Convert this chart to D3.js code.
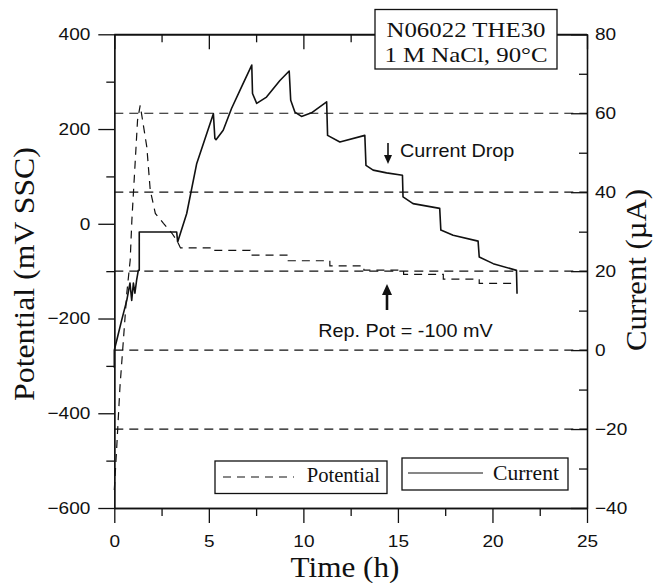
<!DOCTYPE html>
<html>
<head>
<meta charset="utf-8">
<script src="https://cdn.jsdelivr.net/npm/d3@7"></script>
<style>
  body { margin: 0; background: #fff; }
  svg { display: block; }
  .sans { font-family: "Liberation Sans", Arial, sans-serif; }
  .serif { font-family: "Liberation Serif", "Times New Roman", serif; }
</style>
</head>
<body>
<div id="container"></div>
<script>
/* DATA */
const potTime = [0, 0.13, 0.30, 0.48, 0.66, 0.84, 0.93, 1.10, 1.23, 1.37, 1.72, 1.90, 2.17, 2.60, 3.05, 3.35,
  3.50, 5.16, 5.16, 7.19, 7.19, 9.20, 9.20, 11.40, 11.40, 13.20, 13.20, 15.30, 15.30, 17.40, 17.40, 19.30, 19.30, 21.30];
const potValue = [-562, -471, -344, -246, -147, -77, 8, 127, 219, 250, 162, 71, 22, 1, -20, -38,
  -51, -51, -56, -56, -66, -66, -78, -78, -89, -89, -98, -98, -107, -107, -117, -117, -126, -126];

const curTime = [0, 0, 0.13, 0.39, 0.66, 0.83, 0.92, 1.01, 1.09, 1.18, 1.27, 1.32, 1.32, 3.30, 3.35,
  3.83, 4.36, 5.24, 5.32, 5.38, 5.76, 6.20, 6.73, 7.27, 7.31, 7.53, 8.05, 8.76, 9.25, 9.33, 9.55, 9.90,
  10.43, 11.23, 11.28, 11.93, 13.25, 13.31, 13.69, 14.40, 15.24, 15.27, 15.80, 17.21, 17.27, 17.92,
  19.24, 19.30, 20.04, 21.27, 21.30];
const curValue = [-4.5, 0, 2.5, 7.6, 12.6, 17, 12.6, 17, 14.4, 17.7, 20.2, 20.2, 29.9, 29.9, 27.4,
  34.6, 47.3, 59.9, 53.6, 53.3, 55.7, 61.2, 66.7, 72.2, 65, 62.5, 64.1, 68.3, 70.7, 63.3, 60.3, 59.2,
  60.1, 62.9, 54.4, 52.7, 54.4, 46.8, 45.6, 44.9, 44.3, 38.8, 37.1, 35.9, 30.4, 29.1,
  27.6, 23.6, 21.9, 20.2, 14.3];

const gridCurrent = [60, 40, 20, 0, -20];
const xTicks = [0, 5, 10, 15, 20, 25];
const xMinor = [2.5, 7.5, 12.5, 17.5, 22.5];
const leftTicks = [-600, -400, -200, 0, 200, 400];
const leftMinor = [-500, -300, -100, 100, 300];
const rightTicks = [-40, -20, 0, 20, 40, 60, 80];
const rightMinor = [-30, -10, 10, 30, 50, 70];
const boxLines = ["N06022 THE30", "1 M NaCl, 90°C"];
const legendLabels = ["Potential", "Current"];

/* LAYOUT */
const width = 655, height = 583;
const pLeft = 114.3, pRight = 587, pTop = 34.3, pBottom = 508;
const ink = "#111";

const svg = d3.select("#container").append("svg")
  .attr("width", width).attr("height", height);

const xScale = d3.scaleLinear().domain([0, 25]).range([pLeft, pRight]);
const yLeft = d3.scaleLinear().domain([-600, 400]).range([pBottom, pTop]);
const yRight = d3.scaleLinear().domain([-40, 80]).range([pBottom, pTop]);

// helper for horizontally stretched text
function label(x, y, txt, cls, size, k, anchor, rot) {
  return svg.append("text")
    .attr("class", cls)
    .attr("transform", `translate(${x},${y})` + (rot ? ` rotate(${rot})` : "") + ` scale(${k},1)`)
    .attr("font-size", size)
    .attr("text-anchor", anchor || "start")
    .attr("fill", ink)
    .text(txt);
}

/* GRIDLINES (dashed, right-axis values) */
svg.append("g").selectAll("line")
  .data(gridCurrent)
  .join("line")
  .attr("x1", pLeft).attr("x2", pRight)
  .attr("y1", d => yRight(d)).attr("y2", d => yRight(d))
  .attr("stroke", ink).attr("stroke-width", 1.2)
  .attr("stroke-dasharray", "9,6");

/* AXES */
function styleAxis(g) {
  g.selectAll("path, line").attr("stroke", ink).attr("stroke-width", 1.3);
  g.selectAll("text").attr("fill", ink).attr("font-size", 17)
    .attr("font-family", "'Liberation Sans', Arial, sans-serif");
}
const tk = 1.12;

// bottom
svg.append("g").attr("transform", `translate(0,${pBottom})`)
  .call(d3.axisBottom(xScale).tickValues(xTicks).tickSize(15).tickSizeOuter(0).tickPadding(12))
  .call(styleAxis)
  .call(g => g.selectAll("text").attr("transform", `scale(${tk},1)`));
svg.append("g").attr("transform", `translate(0,${pBottom})`)
  .call(d3.axisBottom(xScale).tickValues(xMinor).tickSize(8).tickSizeOuter(0).tickFormat(""))
  .call(styleAxis);

// top (inward ticks, no labels)
svg.append("g").attr("transform", `translate(0,${pTop})`)
  .call(d3.axisTop(xScale).tickValues(xTicks).tickSize(-15).tickSizeOuter(0).tickFormat(""))
  .call(styleAxis);
svg.append("g").attr("transform", `translate(0,${pTop})`)
  .call(d3.axisTop(xScale).tickValues(xMinor).tickSize(-8).tickSizeOuter(0).tickFormat(""))
  .call(styleAxis);

// left
svg.append("g").attr("transform", `translate(${pLeft},0)`)
  .call(d3.axisLeft(yLeft).tickValues(leftTicks).tickSize(16).tickSizeOuter(0).tickPadding(5.4))
  .call(styleAxis)
  .call(g => g.selectAll("text").attr("transform", `scale(${tk},1)`));
svg.append("g").attr("transform", `translate(${pLeft},0)`)
  .call(d3.axisLeft(yLeft).tickValues(leftMinor).tickSize(8).tickSizeOuter(0).tickFormat(""))
  .call(styleAxis);

// right (inward ticks)
svg.append("g").attr("transform", `translate(${pRight},0)`)
  .call(d3.axisRight(yRight).tickValues(rightTicks).tickSize(-16).tickSizeOuter(0).tickPadding(7.1))
  .call(styleAxis)
  .call(g => g.selectAll("text").attr("transform", `scale(${tk},1)`));
svg.append("g").attr("transform", `translate(${pRight},0)`)
  .call(d3.axisRight(yRight).tickValues(rightMinor).tickSize(-8).tickSizeOuter(0).tickFormat(""))
  .call(styleAxis);

// top border line
svg.append("line")
  .attr("x1", pLeft).attr("x2", pRight).attr("y1", pTop).attr("y2", pTop)
  .attr("stroke", ink).attr("stroke-width", 1.3);

/* SERIES */
const potData = potTime.map((t, i) => ({ t, v: potValue[i] }));
const curData = curTime.map((t, i) => ({ t, v: curValue[i] }));

svg.append("path")
  .datum(potData)
  .attr("d", d3.line().x(d => xScale(d.t)).y(d => yLeft(d.v)))
  .attr("fill", "none").attr("stroke", ink).attr("stroke-width", 1.2)
  .attr("stroke-dasharray", "8,6");

svg.append("path")
  .datum(curData)
  .attr("d", d3.line().x(d => xScale(d.t)).y(d => yRight(d.v)))
  .attr("fill", "none").attr("stroke", ink).attr("stroke-width", 1.6)
  .attr("stroke-linejoin", "round");

/* TITLE BOX */
svg.append("rect")
  .attr("x", 375).attr("y", 9.5).attr("width", 182).attr("height", 59.5)
  .attr("fill", "#fff").attr("stroke", ink).attr("stroke-width", 1.3);
label(466, 36.7, boxLines[0], "serif", 22, 1.13, "middle");
label(466, 61.7, boxLines[1], "serif", 22, 1.13, "middle");

/* AXIS TITLES */
label(345, 577, "Time (h)", "serif", 30, 1.04, "middle");
label(34, 274, "Potential (mV SSC)", "serif", 30, 1.06, "middle", -90);
label(646, 270, "Current (\u00b5A)", "serif", 29, 1.06, "middle", -90);

/* LEGEND */
svg.append("rect")
  .attr("x", 215).attr("y", 461).attr("width", 172).attr("height", 32.5)
  .attr("fill", "#fff").attr("stroke", ink).attr("stroke-width", 1.3);
svg.append("line")
  .attr("x1", 223).attr("x2", 294).attr("y1", 477).attr("y2", 477)
  .attr("stroke", ink).attr("stroke-width", 1.2).attr("stroke-dasharray", "8,6");
label(306.7, 482, legendLabels[0], "serif", 20, 1.03);

svg.append("rect")
  .attr("x", 402).attr("y", 458).attr("width", 166).attr("height", 32)
  .attr("fill", "#fff").attr("stroke", ink).attr("stroke-width", 1.3);
svg.append("line")
  .attr("x1", 408).attr("x2", 483).attr("y1", 473).attr("y2", 473)
  .attr("stroke", ink).attr("stroke-width", 1.2);
label(493, 480, legendLabels[1], "serif", 20, 1.08);

/* ANNOTATIONS */
svg.append("line").attr("x1", 388).attr("x2", 388).attr("y1", 143).attr("y2", 157)
  .attr("stroke", ink).attr("stroke-width", 1.6);
svg.append("path").attr("d", "M384,155 L392,155 L388,164 Z").attr("fill", ink);
label(400, 157, "Current Drop", "sans", 18, 1.1);

svg.append("line").attr("x1", 387).attr("x2", 387).attr("y1", 310).attr("y2", 292)
  .attr("stroke", ink).attr("stroke-width", 2.6);
svg.append("path").attr("d", "M382,295 L392,295 L387,284 Z").attr("fill", ink);
label(318.3, 336.7, "Rep. Pot = -100 mV", "sans", 18, 1.1);
</script>
</body>
</html>
